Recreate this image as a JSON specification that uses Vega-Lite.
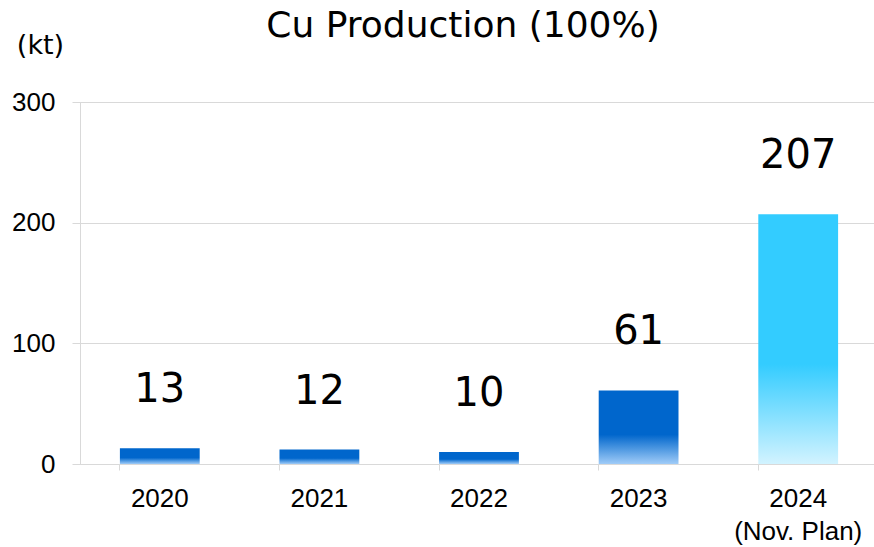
{
  "$schema": "https://vega.github.io/schema/vega-lite/v6.json",
  "width": 798,
  "height": 362,
  "autosize": "none",
  "padding": {"left": 80, "top": 102, "right": 0, "bottom": 83},
  "background": "white",
  "title": {
    "text": "Cu Production (100%)",
    "font": "DejaVu Sans",
    "fontSize": 36,
    "fontWeight": "normal",
    "color": "#000000",
    "anchor": "middle",
    "baseline": "alphabetic",
    "dx": -16,
    "offset": -42
  },
  "data": {
    "values": [
      {"year": "2020", "value": 13},
      {"year": "2021", "value": 12},
      {"year": "2022", "value": 10},
      {"year": "2023", "value": 61},
      {"year": "2024", "value": 207}
    ]
  },
  "encoding": {
    "x": {
      "field": "year",
      "type": "nominal",
      "sort": null,
      "scale": {"paddingInner": 0.5, "paddingOuter": 0.25},
      "axis": {
        "title": null,
        "labelAngle": 0,
        "labelFont": "Liberation Sans",
        "labelFontSize": 26,
        "labelColor": "#000000",
        "labelBaseline": "top",
        "labelPadding": 15,
        "labelLineHeight": 33,
        "labelExpr": "datum.value == '2024' ? ['2024', '(Nov. Plan)'] : datum.value",
        "domain": false,
        "ticks": true,
        "tickColor": "#d9d9d9",
        "tickSize": 6,
        "bandPosition": 0,
        "grid": false
      }
    },
    "y": {
      "field": "value",
      "type": "quantitative",
      "scale": {"domain": [0, 300], "nice": false},
      "axis": {
        "values": [0, 100, 200, 300],
        "title": "(kt)",
        "titleAngle": 0,
        "titleFont": "DejaVu Sans",
        "titleFontSize": 27,
        "titleFontWeight": "normal",
        "titleColor": "#000000",
        "titleAlign": "center",
        "titleBaseline": "alphabetic",
        "titleX": -40,
        "titleY": -49,
        "labelFont": "Liberation Sans",
        "labelFontSize": 26,
        "labelColor": "#000000",
        "labelPadding": 17,
        "domain": true,
        "domainColor": "#d9d9d9",
        "ticks": true,
        "tickColor": "#d9d9d9",
        "tickSize": 8,
        "grid": true,
        "gridColor": "#d9d9d9"
      }
    }
  },
  "layer": [
    {
      "mark": {"type": "bar"},
      "encoding": {
        "fill": {
          "condition": {
            "test": "datum.year == '2024'",
            "value": {
              "gradient": "linear",
              "x1": 0, "y1": 0, "x2": 0, "y2": 1,
              "stops": [
                {"offset": 0, "color": "#33CCFF"},
                {"offset": 0.6, "color": "#33CCFF"},
                {"offset": 1, "color": "#D2F3FF"}
              ]
            }
          },
          "value": {
            "gradient": "linear",
            "x1": 0, "y1": 0, "x2": 0, "y2": 1,
            "stops": [
              {"offset": 0, "color": "#0066CC"},
              {"offset": 0.6, "color": "#0066CC"},
              {"offset": 1, "color": "#A0CCF8"}
            ]
          }
        }
      }
    },
    {
      "mark": {
        "type": "text",
        "font": "DejaVu Sans",
        "fontSize": 40,
        "baseline": "alphabetic",
        "dy": -46,
        "color": "#000000"
      },
      "encoding": {
        "text": {"field": "value", "type": "quantitative"}
      }
    }
  ]
}
